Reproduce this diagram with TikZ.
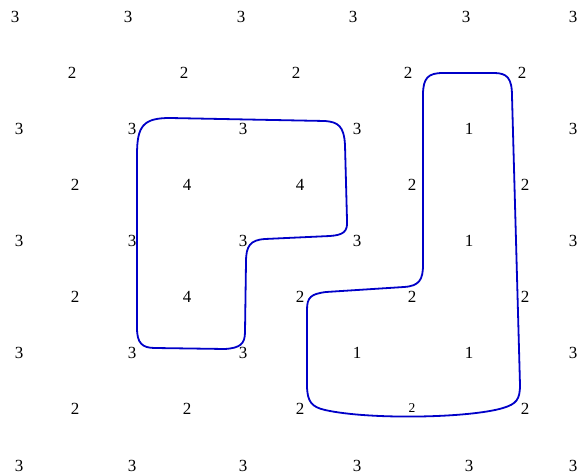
\documentclass[tikz,border=0pt]{standalone}
\usepackage{fontspec}
\setmainfont{Liberation Serif}
\definecolor{loopblue}{RGB}{0,0,200}
\tikzset{
  num/.style={inner sep=0pt, font=\fontsize{17}{17}\selectfont, text=black},
  smallnum/.style={inner sep=0pt, font=\fontsize{13.5}{13.5}\selectfont, text=black},
  loopline/.style={draw=loopblue, line width=1.8pt, line join=round}
}
\begin{document}
\begin{tikzpicture}[x=1pt,y=-1pt]
\useasboundingbox (0,0) rectangle (584,476);
% row A
\foreach \x [count=\i] in {15,128,241,353,466,573} \node[num] (a\i) at (\x,17) {3};
% row B
\foreach \x [count=\i] in {72,184,296,408,522} \node[num] (b\i) at (\x,73) {2};
% row C
\node[num] (c1) at (19,129) {3};
\node[num] (c2) at (132,129) {3};
\node[num] (c3) at (243,129) {3};
\node[num] (c4) at (357,129) {3};
\node[num] (c5) at (469,129) {1};
\node[num] (c6) at (573,129) {3};
% row D
\node[num] (d1) at (75,185) {2};
\node[num] (d2) at (187,185) {4};
\node[num] (d3) at (300,185) {4};
\node[num] (d4) at (412,185) {2};
\node[num] (d5) at (525,185) {2};
% row E
\node[num] (e1) at (19,241) {3};
\node[num] (e2) at (132,241) {3};
\node[num] (e3) at (243,241) {3};
\node[num] (e4) at (357,241) {3};
\node[num] (e5) at (469,241) {1};
\node[num] (e6) at (573,241) {3};
% row F
\node[num] (f1) at (75,297) {2};
\node[num] (f2) at (187,297) {4};
\node[num] (f3) at (300,297) {2};
\node[num] (f4) at (412,297) {2};
\node[num] (f5) at (525,297) {2};
% row G
\node[num] (g1) at (19,353) {3};
\node[num] (g2) at (132,353) {3};
\node[num] (g3) at (243,353) {3};
\node[num] (g4) at (357,353) {1};
\node[num] (g5) at (469,353) {1};
\node[num] (g6) at (573,353) {3};
% row H
\node[num] (h1) at (75,409) {2};
\node[num] (h2) at (187,409) {2};
\node[num] (h3) at (300,409) {2};
\node[smallnum] (h4) at (412,408) {2};
\node[num] (h5) at (525,409) {2};
% row I
\foreach \x [count=\i] in {19,132,243,357,469,573} \node[num] (i\i) at (\x,466) {3};
% left loop
\draw[loopline] (170,118) -- (325,121) .. controls (338,122) and (344,126) .. (345,145)
  -- (347,220) .. controls (348,232) and (343,235) .. (330,236)
  -- (265,239) .. controls (250,240) and (246,246) .. (246,262)
  -- (245,332) .. controls (245,344) and (240,348) .. (225,349)
  -- (155,348) .. controls (142,348) and (137,343) .. (137,328)
  -- (137,155) .. controls (137,126) and (143,118) .. (170,118) -- cycle;
% right loop
\draw[loopline] (443,73) -- (494,73) .. controls (507,73) and (512,78) .. (512,96)
  -- (520,385) .. controls (520,400) and (516,404) .. (503,408)
  .. controls (470,418) and (370,420) .. (325,410)
  .. controls (312,407) and (307,402) .. (307,385)
  -- (307,310) .. controls (307,297) and (311,294) .. (326,292)
  -- (404,287) .. controls (419,286) and (423,280) .. (423,265)
  -- (423,95) .. controls (423,78) and (428,73) .. (443,73) -- cycle;
\end{tikzpicture}
\end{document}
